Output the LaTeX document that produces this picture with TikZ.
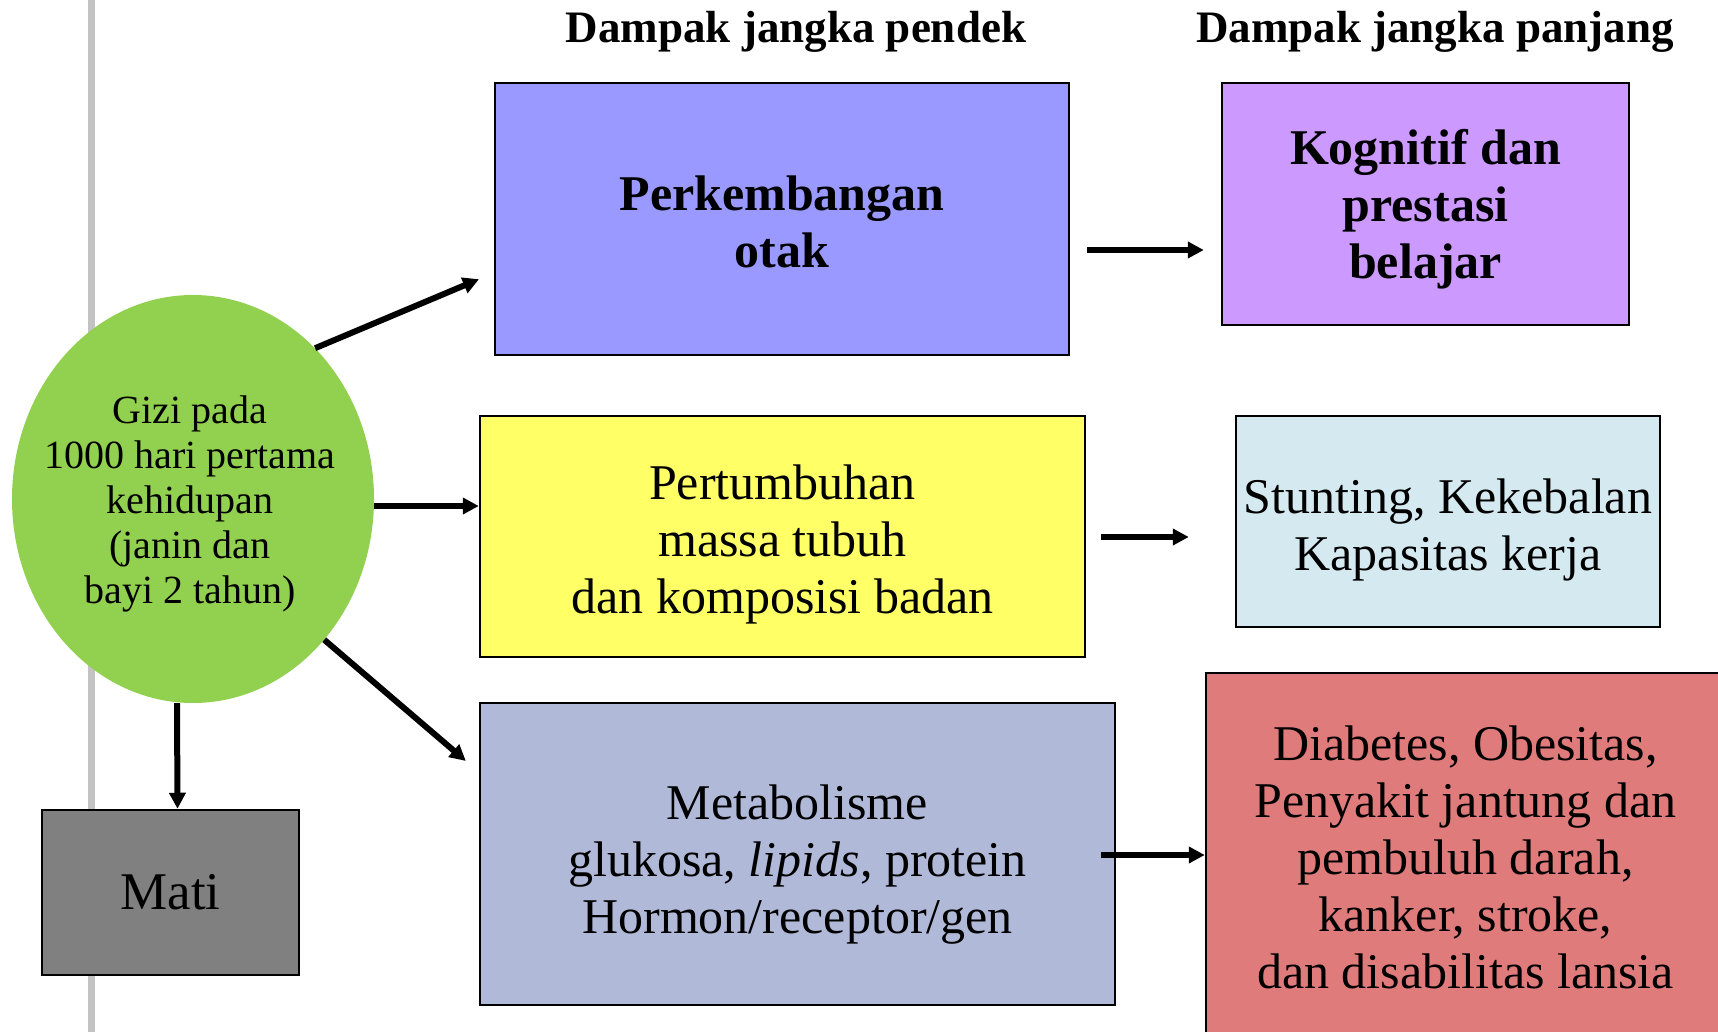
\documentclass[tikz,border=0pt]{standalone}
\usepackage{fontspec}
\setmainfont{Liberation Serif}
\usepackage{tikz}
\usetikzlibrary{arrows.meta,positioning,shapes.geometric}

\definecolor{sidegray}{HTML}{C3C3C3}
\definecolor{gizigreen}{HTML}{92D050}
\definecolor{otakblue}{HTML}{9999FF}
\definecolor{kogpurple}{HTML}{CC99FF}
\definecolor{tubuhyellow}{HTML}{FFFF66}
\definecolor{stuntblue}{HTML}{D4E9F0}
\definecolor{metabblue}{HTML}{B0B9D8}
\definecolor{sakitred}{HTML}{E07B7B}
\definecolor{matigray}{HTML}{808080}

\begin{document}
\begin{tikzpicture}[x=1pt,y=-1pt,
  box/.style={draw,line width=2.5pt,inner sep=0pt},
  txt/.style={align=center,inner sep=0pt,font=\fontsize{50}{57}\selectfont},
  boldtxt/.style={txt,font=\fontsize{50}{57}\selectfont\bfseries},
  heading/.style={font=\fontsize{45}{50}\selectfont\bfseries},
  arr/.style={-{Triangle[length=16pt,width=16pt]},line width=6pt}
]
  \useasboundingbox (0,0) rectangle (1718,1032);
  \fill[sidegray] (88,0) rectangle (95,1032);

  \node[heading] (pendek) at (796,32) {Dampak jangka pendek};
  \node[heading] (panjang) at (1435,32) {Dampak jangka panjang};

  % short-term column
  \node[box,fill=otakblue,minimum width=574pt,minimum height=272pt] (otak) at (782,219) {};
  \node[boldtxt] (otaktxt) at ([yshift=-3pt]otak.center) {Perkembangan\\otak};
  \node[box,fill=tubuhyellow,minimum width=605pt,minimum height=241pt] (tubuh) at (782.5,536.5) {};
  \node[txt] (tubuhtxt) at ([yshift=-8pt]tubuh.center) {Pertumbuhan\\massa tubuh\\dan komposisi badan};
  \node[box,fill=metabblue,minimum width=635pt,minimum height=302pt] (metab) at (797.5,854) {};
  \node[txt] (metabtxt) at ([yshift=-11pt]metab.center) {Metabolisme\\glukosa, \textit{lipids}, protein\\Hormon/receptor/gen};

  % long-term column
  \node[box,fill=kogpurple,minimum width=407pt,minimum height=242pt] (kognitif) at (1425.5,204) {};
  \node[boldtxt] (kognitiftxt) at ([yshift=-5pt]kognitif.center) {Kognitif dan\\prestasi\\belajar};
  \node[box,fill=stuntblue,minimum width=424pt,minimum height=211pt] (stunting) at (1448,521.5) {};
  \node[txt] (stuntingtxt) at ([yshift=-8pt]stunting.center) {Stunting, Kekebalan\\Kapasitas kerja};
  \node[box,fill=sakitred,minimum width=519pt,minimum height=368pt] (penyakit) at (1465.5,857) {};
  \node[txt] (penyakittxt) at (penyakit.center)
    {Diabetes, Obesitas,\\Penyakit jantung dan\\pembuluh darah,\\kanker, stroke,\\dan disabilitas lansia};

  % source
  \node[ellipse,fill=gizigreen,minimum width=362pt,minimum height=408pt,inner sep=0pt] (gizi) at (193,499) {};
  \node[align=center,font=\fontsize{40}{45}\selectfont] (gizitext) at (190,504)
    {Gizi pada\\1000 hari pertama\\kehidupan\\ (janin dan\\bayi 2 tahun)};
  \node[box,fill=matigray,minimum width=257pt,minimum height=165pt] (mati) at (170.5,892.5) {};
  \node[txt,font=\fontsize{53}{60}\selectfont] (matitxt) at (mati.center) {Mati};

  \draw[arr,shorten >=16pt] (gizi.51) -- (otak.west |- 0,273);
  \draw[arr] (gizi.east |- 0,506) -- (tubuh.west |- 0,506);
  \draw[arr,shorten >=17pt] (gizi.-47) -- (metab.west |- 0,772);
  \draw[arr] ([xshift=-16pt]gizi.south) -- ([xshift=7pt]mati.north);

  \draw[arr,shorten <=17pt,shorten >=17pt] (otak.east |- 0,250) -- (kognitif.west |- 0,250);
  \draw[arr,shorten <=15pt,shorten >=46pt] (tubuh.east |- 0,537) -- (stunting.west |- 0,537);
  \draw[arr,shorten <=-15pt] (metab.east |- 0,855) -- (penyakit.west |- 0,855);
\end{tikzpicture}
\end{document}
